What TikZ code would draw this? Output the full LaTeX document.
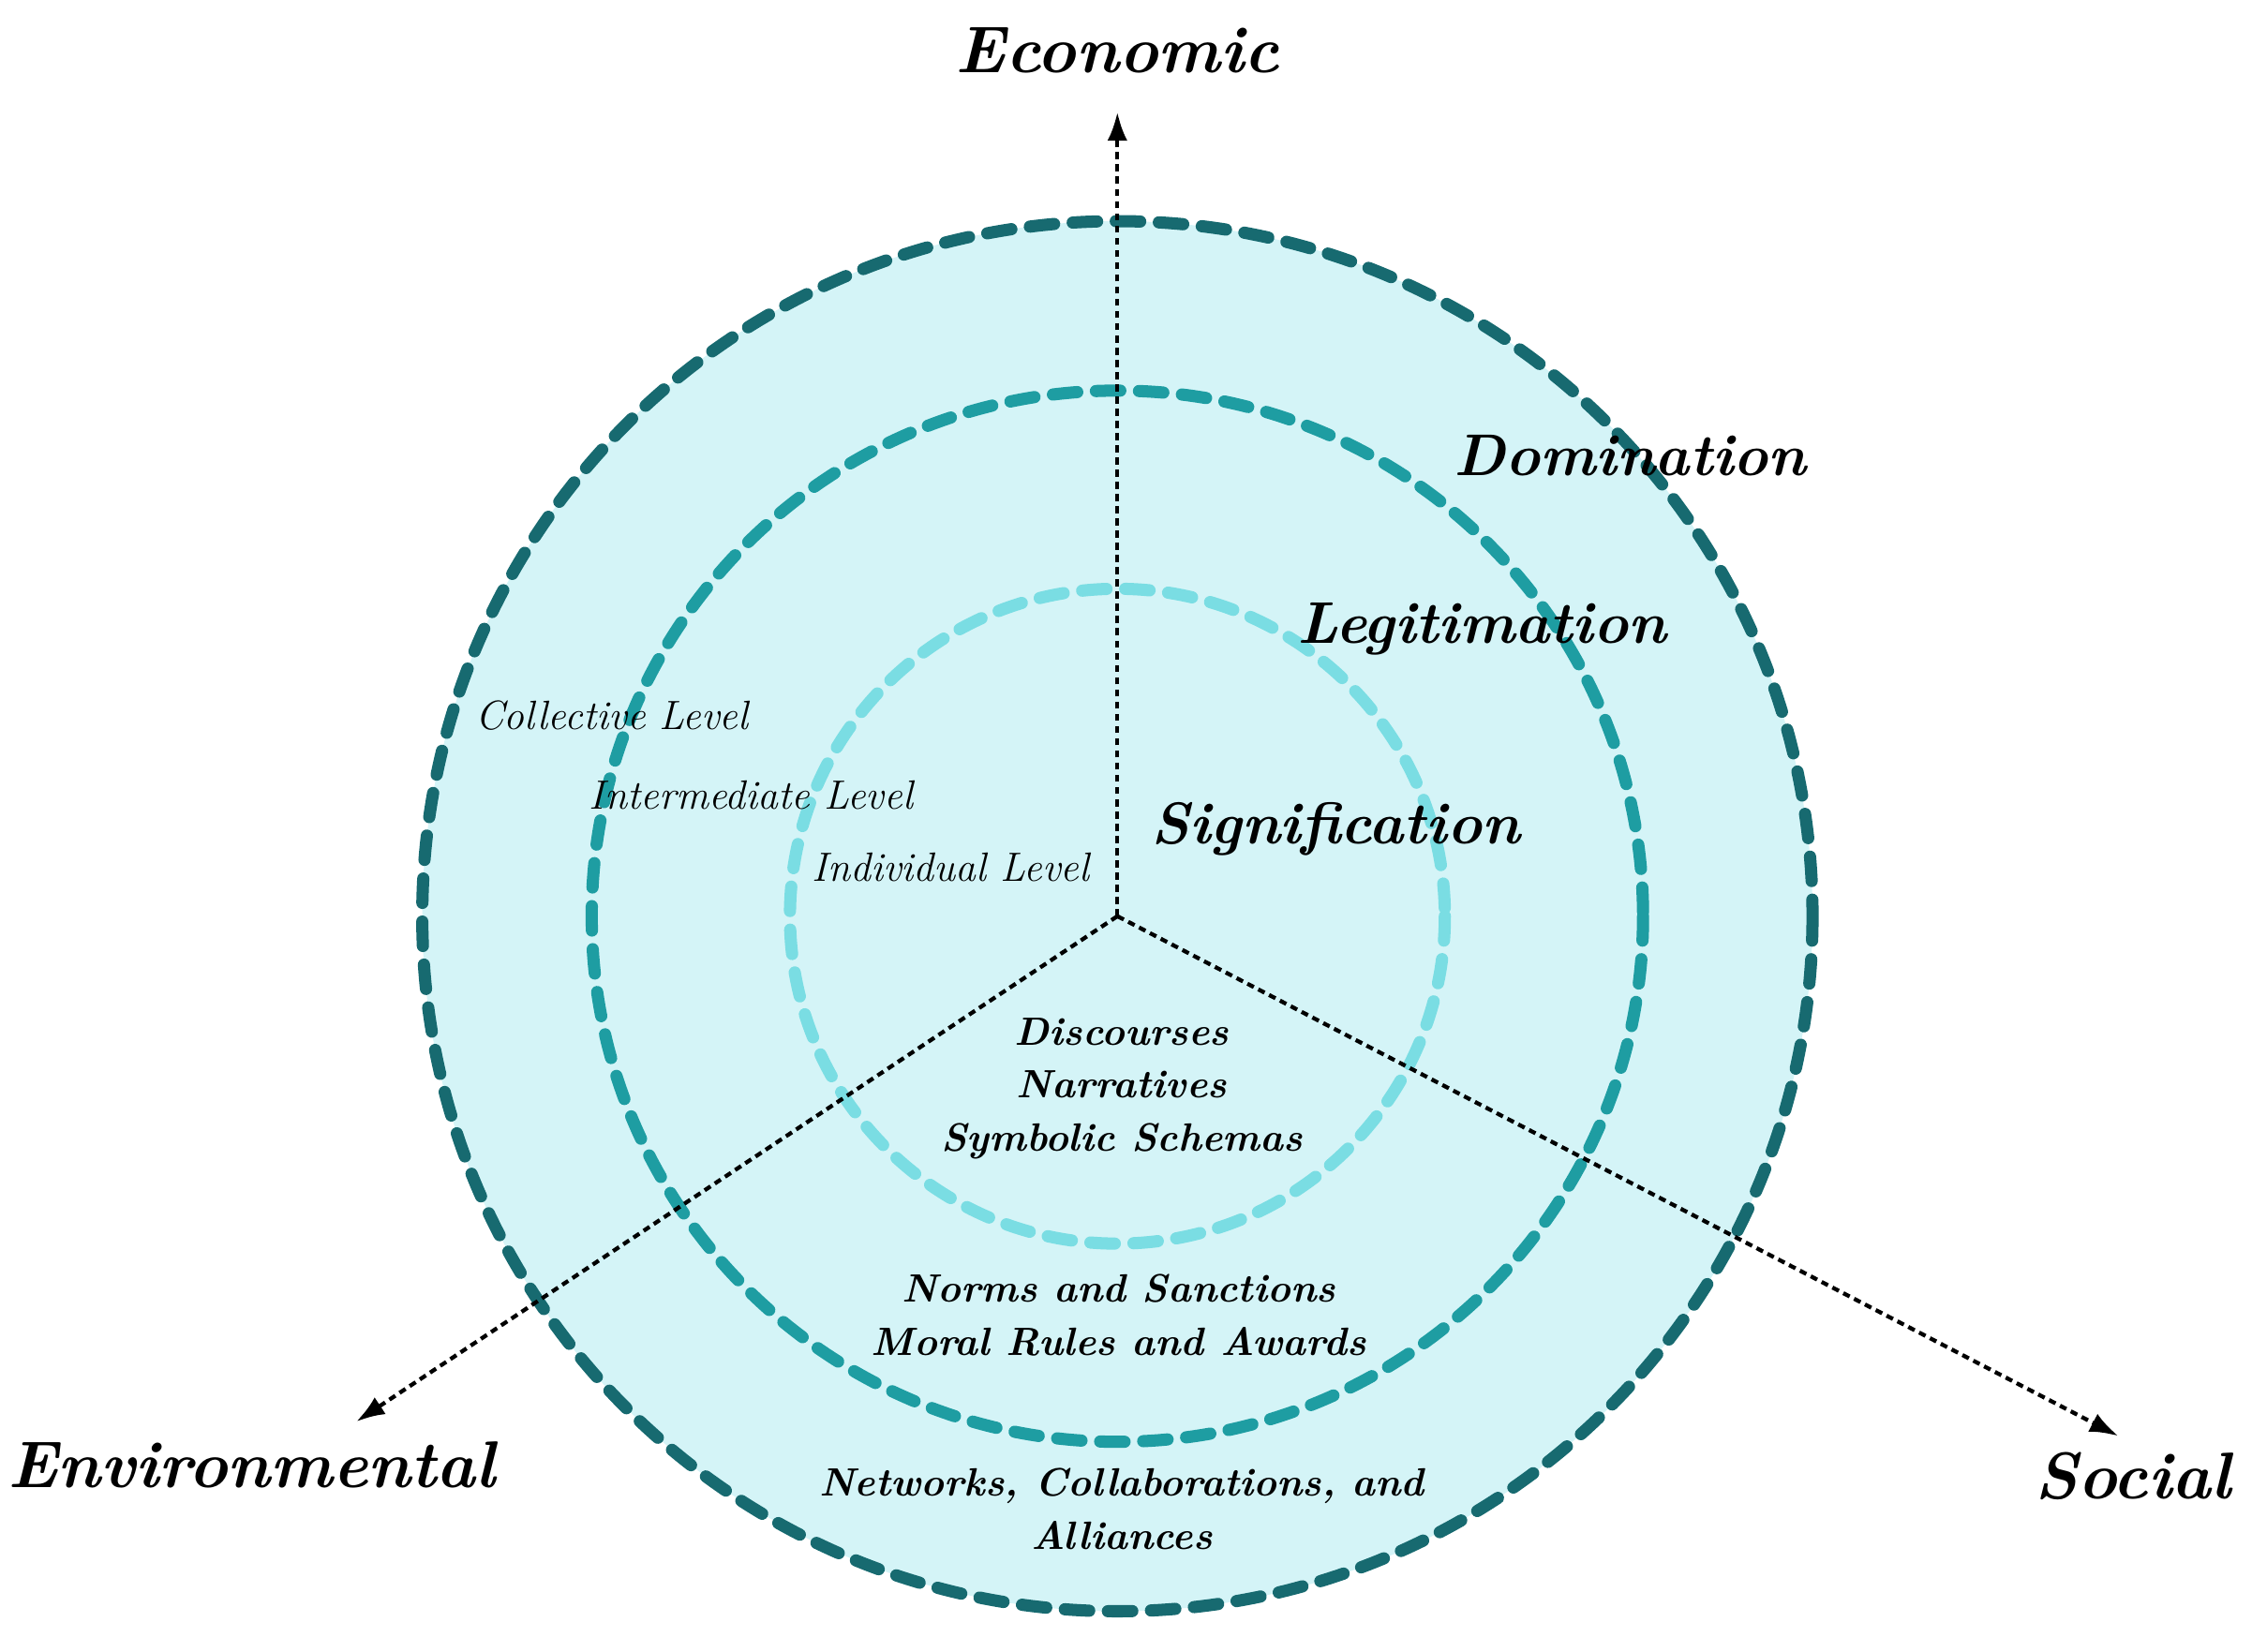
\documentclass[tikz,border=0pt]{standalone}
\usetikzlibrary{arrows.meta}
\definecolor{fillc}{HTML}{D4F4F7}
\definecolor{outc}{HTML}{176A70}
\definecolor{midc}{HTML}{1E9DA2}
\definecolor{inc}{HTML}{7ADDE3}
\begin{document}
\begin{tikzpicture}[x=1pt,y=-1pt,
 ring/.style={line width=8.5pt,dash pattern=on 17pt off 13pt,line cap=round},
 axis/.style={line width=2.8pt,dash pattern=on 5pt off 3.5pt,-{Latex[length=20pt,width=14pt]}},
 big/.style={font=\fontsize{46}{50}\selectfont\bfseries\itshape},
 mid/.style={font=\fontsize{41}{45}\selectfont\bfseries\itshape},
 lvl/.style={font=\fontsize{28.5}{32}\selectfont\itshape},
 inner/.style={font=\fontsize{27.5}{37}\selectfont\bfseries\itshape,align=center}]
\useasboundingbox (0,0) rectangle (1568,1150);
\coordinate (c) at (778,638);
\fill[fillc] (c) circle (484);
\draw[ring,outc] (c) circle (484);
\draw[ring,midc] (c) circle (366);
\draw[ring,inc] (c) circle (228);
\coordinate (e) at (778,78);
\coordinate (v) at (248,990);
\coordinate (s) at (1475,1000);
\draw[axis] (c) -- (e);
\draw[axis] (c) -- (v);
\draw[axis] (c) -- (s);
\node[big] (econ) at (778,35) {Economic};
\node[big] (env) at (175,1020) {Environmental};
\node[big] (soc) at (1485,1028) {Social};
\node[mid] (dom) at (1135,317) {Domination};
\node[mid] (leg) at (1032,438) {Legitimation};
\node[mid] (sig) at (930,577) {Signification};
\node[lvl] (col) at (426,498) {Collective Level};
\node[lvl] (int) at (523,554) {Intermediate Level};
\node[lvl] (ind) at (662,604) {Individual Level};
\node[inner] (t1) at (781,758) {Discourses\\Narratives\\Symbolic Schemas};
\node[inner] (t2) at (779,916) {Norms and Sanctions\\Moral Rules and Awards};
\node[inner] (t3) at (781,1051) {Networks, Collaborations, and\\Alliances};
\end{tikzpicture}
\end{document}
